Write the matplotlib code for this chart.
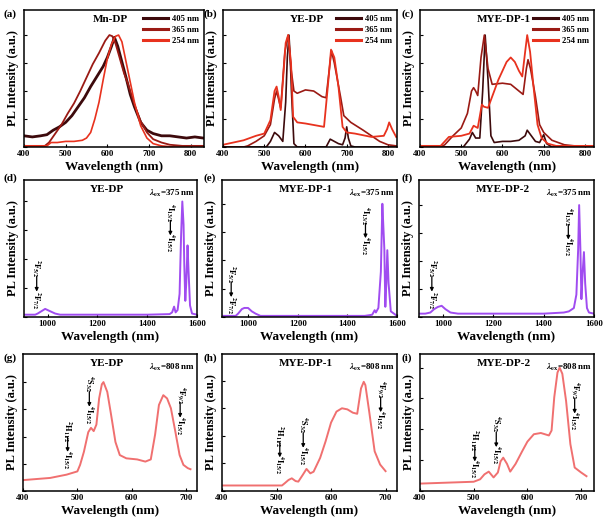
import matplotlib
matplotlib.use("Agg")
import matplotlib.pyplot as plt
import matplotlib.transforms as mtransforms

plt.rcParams["font.family"] = "Liberation Serif"
plt.rcParams["font.weight"] = "bold"
plt.rcParams["mathtext.fontset"] = "stix"

# ---- data (normalised PL intensity) ----
# (a) Mn-DP
a_wl_405 = [400, 420, 440, 455, 470, 485, 500, 515, 530, 545, 560, 575, 590, 600, 610, 617, 625, 635, 645, 655, 665, 680, 695, 710, 730, 750, 770, 790, 810, 830]
a_405 = [0.10, 0.09, 0.10, 0.11, 0.15, 0.18, 0.22, 0.28, 0.36, 0.44, 0.54, 0.63, 0.72, 0.80, 0.90, 0.98, 0.90, 0.76, 0.62, 0.47, 0.36, 0.22, 0.15, 0.12, 0.10, 0.10, 0.09, 0.08, 0.09, 0.08]
a_wl_365 = [400, 430, 450, 460, 475, 490, 505, 520, 535, 550, 565, 580, 595, 605, 612, 620, 630, 640, 650, 665, 680, 695, 710, 730, 750, 780, 830]
a_365 = [0.01, 0.01, 0.01, 0.04, 0.12, 0.20, 0.30, 0.39, 0.50, 0.62, 0.74, 0.84, 0.95, 1.00, 0.99, 0.92, 0.79, 0.66, 0.56, 0.38, 0.23, 0.13, 0.07, 0.04, 0.02, 0.01, 0.01]
a_wl_254 = [400, 440, 455, 465, 480, 500, 520, 540, 550, 560, 570, 580, 590, 600, 610, 620, 627, 635, 645, 655, 665, 680, 695, 710, 730, 760, 830]
a_254 = [0.01, 0.01, 0.01, 0.04, 0.04, 0.05, 0.05, 0.06, 0.08, 0.13, 0.25, 0.40, 0.60, 0.79, 0.92, 0.99, 1.00, 0.94, 0.76, 0.58, 0.40, 0.19, 0.08, 0.03, 0.01, 0.00, 0.00]

# (b) YE-DP
b_wl_405 = [400, 505, 515, 525, 535, 545, 552, 556, 560, 563, 566, 572, 580, 650, 660, 670, 680, 690, 696, 700, 704, 710, 720, 820]
b_405 = [0.00, 0.00, 0.05, 0.13, 0.10, 0.05, 0.40, 0.80, 1.00, 0.80, 0.50, 0.03, 0.00, 0.00, 0.07, 0.05, 0.03, 0.02, 0.08, 0.18, 0.08, 0.01, 0.00, 0.00]
b_wl_365 = [400, 450, 460, 480, 500, 515, 525, 530, 540, 550, 558, 565, 572, 580, 600, 620, 640, 650, 658, 663, 670, 677, 685, 693, 710, 740, 780, 800, 820]
b_365 = [0.00, 0.00, 0.01, 0.05, 0.10, 0.20, 0.43, 0.50, 0.35, 0.85, 1.00, 0.70, 0.50, 0.48, 0.51, 0.50, 0.45, 0.44, 0.70, 0.86, 0.75, 0.61, 0.45, 0.28, 0.22, 0.15, 0.05, 0.02, 0.01]
b_wl_254 = [400, 450, 480, 500, 515, 525, 530, 535, 540, 545, 552, 558, 565, 570, 580, 600, 630, 645, 655, 662, 670, 680, 690, 700, 720, 760, 790, 798, 803, 810, 820]
b_254 = [0.02, 0.06, 0.10, 0.12, 0.24, 0.50, 0.54, 0.45, 0.33, 0.57, 0.93, 1.00, 0.75, 0.27, 0.22, 0.21, 0.19, 0.18, 0.57, 0.87, 0.80, 0.54, 0.18, 0.13, 0.12, 0.09, 0.10, 0.16, 0.22, 0.16, 0.09]

# (c) MYE-DP-1
c_wl_405 = [400, 505, 520, 527, 535, 545, 552, 558, 565, 572, 580, 600, 620, 640, 655, 660, 670, 680, 690, 700, 707, 720, 820]
c_405 = [0.00, 0.00, 0.07, 0.13, 0.08, 0.08, 0.50, 1.00, 0.60, 0.10, 0.04, 0.05, 0.05, 0.06, 0.10, 0.15, 0.10, 0.05, 0.04, 0.11, 0.03, 0.00, 0.00]
c_wl_365 = [400, 450, 460, 480, 500, 515, 525, 530, 535, 540, 548, 556, 565, 575, 600, 620, 640, 650, 658, 662, 668, 680, 690, 700, 720, 750, 800, 820]
c_365 = [0.00, 0.00, 0.02, 0.10, 0.17, 0.30, 0.50, 0.53, 0.50, 0.46, 0.80, 1.00, 0.70, 0.56, 0.57, 0.56, 0.50, 0.47, 0.70, 0.78, 0.70, 0.45, 0.20, 0.13, 0.06, 0.02, 0.00, 0.00]
c_wl_254 = [400, 450, 460, 470, 500, 520, 530, 540, 550, 555, 565, 575, 590, 610, 620, 630, 640, 648, 655, 660, 667, 675, 685, 695, 710, 730, 820]
c_254 = [0.01, 0.01, 0.05, 0.09, 0.10, 0.12, 0.19, 0.17, 0.38, 0.36, 0.35, 0.45, 0.60, 0.76, 0.80, 0.76, 0.68, 0.63, 0.85, 1.00, 0.85, 0.55, 0.20, 0.08, 0.03, 0.01, 0.01]

# (d)-(f) NIR emission, lambda_ex = 375 nm
d_wl = [900, 950, 960, 975, 990, 1010, 1030, 1050, 1400, 1490, 1500, 1508, 1514, 1522, 1530, 1536, 1541, 1546, 1549, 1553, 1557, 1562, 1566, 1572, 1580, 1600]
d_int = [0.02, 0.02, 0.03, 0.05, 0.07, 0.05, 0.03, 0.02, 0.02, 0.025, 0.04, 0.09, 0.04, 0.06, 0.20, 0.70, 1.00, 0.80, 0.45, 0.14, 0.30, 0.62, 0.40, 0.10, 0.03, 0.02]
e_wl = [900, 950, 960, 975, 985, 1000, 1015, 1030, 1050, 1470, 1500, 1510, 1515, 1525, 1535, 1541, 1545, 1549, 1553, 1557, 1561, 1566, 1575, 1600]
e_int = [0.01, 0.01, 0.03, 0.07, 0.08, 0.08, 0.05, 0.03, 0.01, 0.01, 0.02, 0.06, 0.04, 0.08, 0.40, 1.00, 0.80, 0.60, 0.09, 0.30, 0.59, 0.30, 0.05, 0.01]
f_wl = [900, 930, 950, 965, 980, 995, 1010, 1030, 1060, 1100, 1200, 1300, 1400, 1480, 1500, 1520, 1530, 1537, 1541, 1546, 1550, 1555, 1560, 1565, 1572, 1580, 1600]
f_int = [0.03, 0.03, 0.04, 0.07, 0.09, 0.10, 0.07, 0.04, 0.03, 0.03, 0.03, 0.03, 0.03, 0.04, 0.05, 0.08, 0.20, 0.60, 1.00, 0.60, 0.16, 0.40, 0.58, 0.30, 0.08, 0.04, 0.03]

# (g)-(i) upconversion, lambda_ex = 808 nm
g_wl = [400, 450, 480, 500, 505, 512, 520, 525, 530, 535, 540, 545, 548, 555, 562, 570, 578, 590, 610, 625, 635, 643, 650, 658, 665, 672, 680, 688, 695, 703, 708]
g_int = [0.10, 0.12, 0.15, 0.18, 0.24, 0.36, 0.54, 0.58, 0.55, 0.61, 0.85, 0.98, 1.00, 0.91, 0.70, 0.45, 0.33, 0.30, 0.29, 0.27, 0.29, 0.52, 0.79, 0.88, 0.85, 0.76, 0.55, 0.33, 0.24, 0.21, 0.20]
h_wl = [400, 500, 510, 515, 522, 528, 535, 540, 548, 555, 562, 568, 580, 590, 600, 610, 620, 630, 640, 648, 655, 660, 663, 670, 680, 690, 700]
h_int = [0.05, 0.05, 0.05, 0.07, 0.10, 0.115, 0.09, 0.085, 0.145, 0.20, 0.16, 0.175, 0.30, 0.45, 0.62, 0.72, 0.75, 0.74, 0.71, 0.70, 0.93, 0.99, 0.96, 0.72, 0.36, 0.24, 0.18]
i_wl = [400, 500, 512, 520, 528, 537, 545, 550, 555, 562, 568, 578, 590, 600, 612, 625, 640, 645, 650, 656, 660, 665, 672, 680, 688, 700, 710]
i_int = [0.06, 0.075, 0.095, 0.135, 0.157, 0.11, 0.15, 0.24, 0.27, 0.22, 0.157, 0.22, 0.32, 0.40, 0.46, 0.47, 0.45, 0.49, 0.76, 0.96, 1.00, 0.95, 0.73, 0.38, 0.19, 0.15, 0.12]

exc_labels = ["405 nm", "365 nm", "254 nm"]
exc_colors = ["#3d0a0c", "#9a1a14", "#e8321e"]
nir_color = "#a04cf0"
up_color = "#f07070"

W, H = 607, 527
fig = plt.figure(figsize=(W / 100, H / 100), dpi=100)


def make_ax(left, right, top, bottom):
    return fig.add_axes([left / W, 1 - bottom / H, (right - left) / W, (bottom - top) / H])


def style(ax, xlim, ylim, xticks, label, title, xpix, tpix):
    ax.set_xlim(*xlim)
    ax.set_ylim(*ylim)
    ax.set_xticks(xticks)
    ax.set_yticks([ylim[0] + k * 0.25 for k in range(5) if ylim[0] + k * 0.25 < ylim[1]])
    ax.set_yticklabels([])
    ax.tick_params(axis="x", direction="in", length=2.5, width=0.8, labelsize=6.3, pad=2)
    ax.tick_params(axis="y", direction="in", length=2.5, width=0.8)
    for s in ax.spines.values():
        s.set_linewidth(1.1)
    ax.set_xlabel("Wavelength (nm)", fontsize=9.5, fontweight="bold", labelpad=2)
    ax.set_ylabel("PL Intensity (a.u.)", fontsize=9, fontweight="bold", labelpad=0)
    ax.text(0.48, 0.965, title, transform=ax.transAxes, ha="center", va="top",
            fontsize=8, fontweight="bold")
    fig.text(xpix / W, 1 - tpix / H, label, ha="left", va="center", fontsize=8, fontweight="bold")


def trans(ax, x, yc, upper, lower, span=0.36):
    # vertical transition label: upper level, arrow pointing down, lower level
    tr = mtransforms.blended_transform_factory(ax.transData, ax.transAxes)
    top, bot = yc + span / 2, yc - span / 2
    ax.text(x, top, upper, transform=tr, rotation=-90, ha="center", va="top", fontsize=6)
    ax.text(x, bot, lower, transform=tr, rotation=-90, ha="center", va="bottom", fontsize=6)
    ax.annotate("", xy=(x, bot + 0.125), xytext=(x, top - 0.125), xycoords=tr, textcoords=tr,
                arrowprops=dict(arrowstyle="-|>", lw=0.9, color="black", mutation_scale=5,
                                shrinkA=0, shrinkB=0))


# row 1
ax_a = make_ax(24, 204, 10, 147)
ax_a.plot(a_wl_405, a_405, color=exc_colors[0], lw=2.0, label=exc_labels[0])
ax_a.plot(a_wl_365, a_365, color=exc_colors[1], lw=1.3, label=exc_labels[1])
ax_a.plot(a_wl_254, a_254, color=exc_colors[2], lw=1.2, label=exc_labels[2])
style(ax_a, (400, 832), (0, 1.224), [400, 500, 600, 700, 800], "(a)", "Mn-DP", 4, 14)

ax_b = make_ax(223, 397, 10, 147)
ax_b.plot(b_wl_405, b_405, color=exc_colors[0], lw=1.2, label=exc_labels[0])
ax_b.plot(b_wl_365, b_365, color=exc_colors[1], lw=1.2, label=exc_labels[1])
ax_b.plot(b_wl_254, b_254, color=exc_colors[2], lw=1.3, label=exc_labels[2])
style(ax_b, (400, 822), (0, 1.224), [400, 500, 600, 700, 800], "(b)", "YE-DP", 203, 14)

ax_c = make_ax(420, 594, 10, 147)
ax_c.plot(c_wl_405, c_405, color=exc_colors[0], lw=1.2, label=exc_labels[0])
ax_c.plot(c_wl_365, c_365, color=exc_colors[1], lw=1.2, label=exc_labels[1])
ax_c.plot(c_wl_254, c_254, color=exc_colors[2], lw=1.3, label=exc_labels[2])
style(ax_c, (400, 822), (0, 1.224), [400, 500, 600, 700, 800], "(c)", "MYE-DP-1", 402, 14)

for ax in (ax_a, ax_b, ax_c):
    ax.legend(loc="upper right", frameon=False, handlelength=3.0,
              handletextpad=0.4, labelspacing=0.35, borderaxespad=0.2,
              prop={"weight": "bold", "size": 6.2})
    for ln in ax.get_legend().get_lines():
        ln.set_linewidth(2.2)

# row 2
F52, F72 = r"$^{2}\mathbf{F}_{5/2}$", r"$^{2}\mathbf{F}_{7/2}$"
I132, I152 = r"$^{4}\mathbf{I}_{13/2}$", r"$^{4}\mathbf{I}_{15/2}$"
H112, S32, F92 = r"$^{2}\mathbf{H}_{11/2}$", r"$^{4}\mathbf{S}_{3/2}$", r"$^{4}\mathbf{F}_{9/2}$"

ax_d = make_ax(24, 197, 180, 317)
ax_d.plot(d_wl, d_int, color=nir_color, lw=1.4)
style(ax_d, (905, 1600), (0, 1.186), [1000, 1200, 1400, 1600], "(d)", "YE-DP", 4, 178)
trans(ax_d, 956, 0.24, F52, F72)
trans(ax_d, 1493, 0.65, I132, I152)

ax_e = make_ax(222, 397, 180, 317)
ax_e.plot(e_wl, e_int, color=nir_color, lw=1.4)
style(ax_e, (895, 1600), (0, 1.21), [1000, 1200, 1400, 1600], "(e)", "MYE-DP-1", 203, 178)
trans(ax_e, 932, 0.20, F52, F72)
trans(ax_e, 1473, 0.63, I132, I152)

ax_f = make_ax(419, 594, 180, 317)
ax_f.plot(f_wl, f_int, color=nir_color, lw=1.4)
style(ax_f, (905, 1600), (0, 1.224), [1000, 1200, 1400, 1600], "(f)", "MYE-DP-2", 402, 178)
trans(ax_f, 956, 0.24, F52, F72)
trans(ax_f, 1498, 0.62, I132, I152)

for ax in (ax_d, ax_e, ax_f):
    ax.text(0.99, 0.90, r"$\lambda_{\mathbf{ex}}$=375 nm", transform=ax.transAxes,
            ha="right", va="center", fontsize=6.5, fontweight="bold")

# row 3
ax_g = make_ax(23, 197, 354, 491)
ax_g.plot(g_wl, g_int, color=up_color, lw=1.4)
style(ax_g, (400, 720), (0, 1.258), [400, 500, 600, 700], "(g)", "YE-DP", 4, 358)
trans(ax_g, 482, 0.34, H112, I152)
trans(ax_g, 522, 0.67, S32, I152)
trans(ax_g, 689, 0.59, F92, I152)

ax_h = make_ax(222, 397, 354, 491)
ax_h.plot(h_wl, h_int, color=up_color, lw=1.4)
style(ax_h, (400, 721), (0, 1.242), [400, 500, 600, 700], "(h)", "MYE-DP-1", 203, 358)
trans(ax_h, 506, 0.30, H112, I152)
trans(ax_h, 549, 0.37, S32, I152)
trans(ax_h, 691, 0.63, F92, I152)

ax_i = make_ax(420, 594, 354, 491)
ax_i.plot(i_wl, i_int, color=up_color, lw=1.4)
style(ax_i, (400, 724), (0, 1.11), [400, 500, 600, 700], "(i)", "MYE-DP-2", 402, 358)
trans(ax_i, 502, 0.27, H112, I152)
trans(ax_i, 542, 0.375, S32, I152)
trans(ax_i, 688, 0.62, F92, I152)

for ax in (ax_g, ax_h, ax_i):
    ax.text(0.99, 0.90, r"$\lambda_{\mathbf{ex}}$=808 nm", transform=ax.transAxes,
            ha="right", va="center", fontsize=6.5, fontweight="bold")

fig.savefig("out.png", dpi=100)
